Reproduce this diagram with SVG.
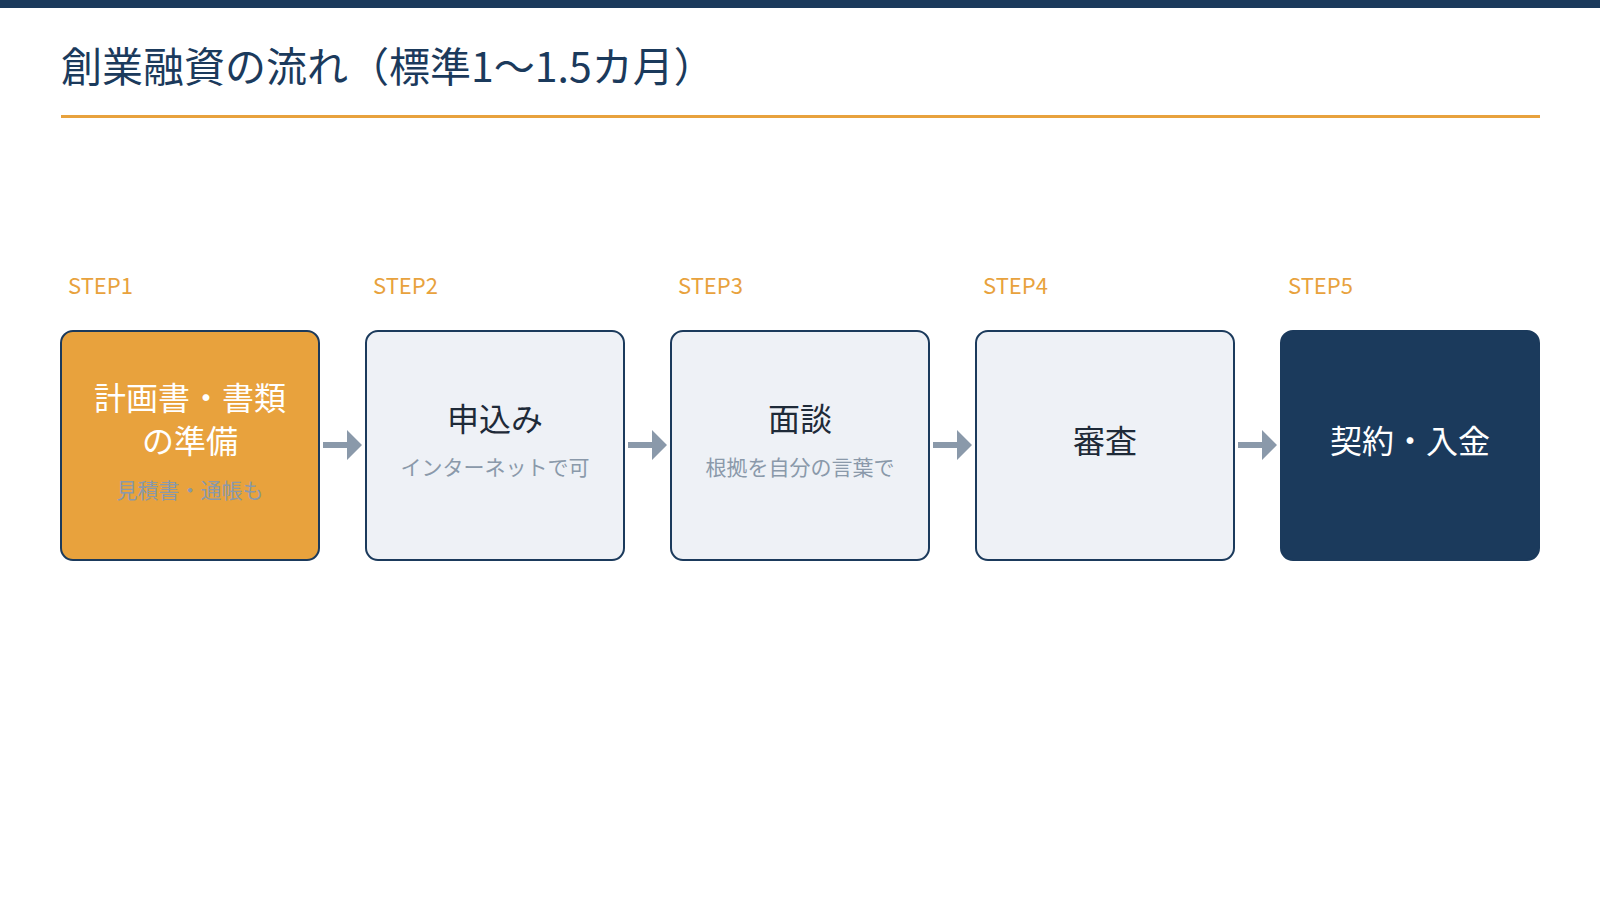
<svg xmlns="http://www.w3.org/2000/svg" width="1600" height="900" viewBox="0 0 1600 900">
<style>
text{font-family:"Noto Sans CJK JP","Noto Sans",sans-serif}
.step{fill:#e8a23d;font-size:22px}
.box{stroke:#1b3a5c;stroke-width:2}
.t{font-size:32px;text-anchor:middle}
.s{font-size:21px;text-anchor:middle;fill:#8a99aa}
.arr{fill:#8a99aa}
</style>
<rect x="0" y="0" width="1600" height="8" fill="#1b3a5c"/>
<text x="61" y="82" font-size="41" fill="#1b3a5c">創業融資の流れ（標準1〜1.5カ月）</text>
<rect x="61" y="115" width="1479" height="3" fill="#e8a23d"/>
<g id="step1"><text class="step" x="68" y="294">STEP1</text><rect class="box" x="61" y="331" width="258" height="229" rx="12" fill="#e8a23d"/><text class="t" x="190" y="410" fill="#fff">計画書・書類</text><text class="t" x="190" y="453" fill="#fff">の準備</text><text class="s" x="190" y="498">見積書・通帳も</text></g>
<g id="step2"><text class="step" x="373" y="294">STEP2</text><rect class="box" x="366" y="331" width="258" height="229" rx="12" fill="#eef1f6"/><text class="t" x="495" y="431" fill="#1e2a38">申込み</text><text class="s" x="495" y="475">インターネットで可</text></g>
<g id="step3"><text class="step" x="678" y="294">STEP3</text><rect class="box" x="671" y="331" width="258" height="229" rx="12" fill="#eef1f6"/><text class="t" x="800" y="431" fill="#1e2a38">面談</text><text class="s" x="800" y="475">根拠を自分の言葉で</text></g>
<g id="step4"><text class="step" x="983" y="294">STEP4</text><rect class="box" x="976" y="331" width="258" height="229" rx="12" fill="#eef1f6"/><text class="t" x="1105" y="453" fill="#1e2a38">審査</text></g>
<g id="step5"><text class="step" x="1288" y="294">STEP5</text><rect class="box" x="1281" y="331" width="258" height="229" rx="12" fill="#1b3a5c"/><text class="t" x="1410" y="453" fill="#fff">契約・入金</text></g>
<g id="connectors">
<path class="arr" d="M323 442h24v-12l15 15l-15 15v-12h-24z"/>
<path class="arr" d="M628 442h24v-12l15 15l-15 15v-12h-24z"/>
<path class="arr" d="M933 442h24v-12l15 15l-15 15v-12h-24z"/>
<path class="arr" d="M1238 442h24v-12l15 15l-15 15v-12h-24z"/>
</g>
</svg>
